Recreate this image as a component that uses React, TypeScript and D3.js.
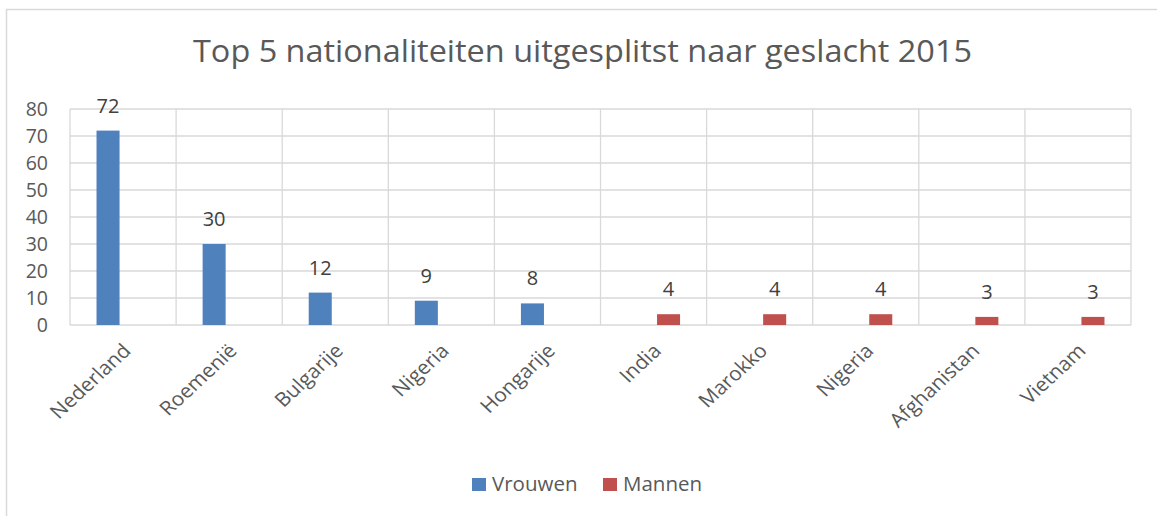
import React from "react";
import * as d3 from "d3";

const categories = ["Nederland", "Roemenië", "Bulgarije", "Nigeria", "Hongarije", "India", "Marokko", "Nigeria", "Afghanistan", "Vietnam"];
const vrouwen: (number | null)[] = [72, 30, 12, 9, 8, null, null, null, null, null];
const mannen: (number | null)[] = [null, null, null, null, null, 4, 4, 4, 3, 3];
const seriesNames = ["Vrouwen", "Mannen"];
const seriesColors = ["#4f81bd", "#c0504d"];
const yTicks = [0, 10, 20, 30, 40, 50, 60, 70, 80];
const title = "Top 5 nationaliteiten uitgesplitst naar geslacht 2015";

const W = 1157, H = 516;
const FONT = "'Open Sans', 'Noto Sans', sans-serif";
const TXT = "#595959";

export default function App() {
  const left = 70, right = 1131, top = 109, bottom = 325;
  const x = d3.scaleBand<number>().domain(categories.map((_, i) => i)).range([left, right]);
  const bw = x.bandwidth();
  const x1 = d3.scaleBand<string>().domain(seriesNames).range([bw * 0.25, bw * 0.75]).paddingInner(0.233);
  const y = d3.scaleLinear().domain([0, 80]).range([bottom, top]);
  const series = [vrouwen, mannen];

  return (
    <svg width={W} height={H} style={{ position: "absolute", left: 0, top: 0, background: "#fff" }} fontFamily={FONT}>
      <rect x={6.5} y={9.5} width={W + 10} height={H + 10} fill="#fff" stroke="#d9d9d9" strokeWidth={1.5} />
      <text x={193} y={62} textAnchor="start" fontSize={31} fill={TXT} textLength={779} lengthAdjust="spacingAndGlyphs">{title}</text>
      {yTicks.map((t) => (
        <line key={"h" + t} x1={left} x2={right} y1={y(t)} y2={y(t)} stroke="#d9d9d9" strokeWidth={1.3} />
      ))}
      {categories.map((_, i) => (
        <line key={"v" + i} x1={x(i)!} x2={x(i)!} y1={top} y2={bottom} stroke="#d9d9d9" strokeWidth={1.3} />
      ))}
      <line x1={right} x2={right} y1={top} y2={bottom} stroke="#d9d9d9" strokeWidth={1.3} />
      {yTicks.map((t) => (
        <text key={"yt" + t} x={48} y={y(t)} dy="0.36em" textAnchor="end" fontSize={19.5} fill={TXT}>{t}</text>
      ))}
      {series.map((vals, s) =>
        vals.map((v, i) =>
          v == null ? null : (
            <g key={s + "-" + i}>
              <rect x={x(i)! + x1(seriesNames[s])!} y={y(v)} width={x1.bandwidth()} height={y(0) - y(v)} fill={seriesColors[s]} />
              <text x={x(i)! + x1(seriesNames[s])! + x1.bandwidth() / 2} y={y(v) - 18} textAnchor="middle" fontSize={20} fill="#404040">{v}</text>
            </g>
          )
        )
      )}
      {categories.map((c, i) => {
        const cx = x(i)! + bw / 2 + 9;
        const cy = 352;
        return (
          <text key={"xl" + i} textAnchor="end" fontSize={19.5} fill={TXT} transform={`translate(${cx},${cy}) scale(1.08,1) rotate(-45)`}>{c}</text>
        );
      })}
      {seriesNames.map((n, s) => {
        const lx = [472, 603][s];
        return (
          <g key={"lg" + n}>
            <rect x={lx} y={478} width={14} height={13} fill={seriesColors[s]} />
            <text x={lx + 20} y={491} fontSize={20.5} fill={TXT}>{n}</text>
          </g>
        );
      })}
    </svg>
  );
}
